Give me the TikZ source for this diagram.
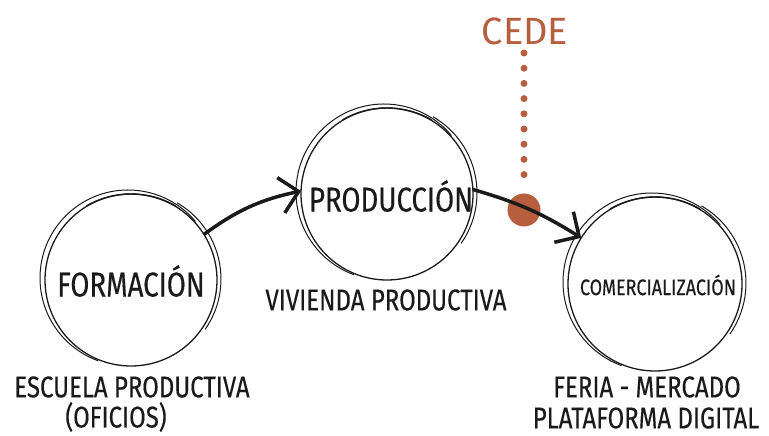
\documentclass[tikz,border=0pt]{standalone}
\usepackage{fontspec}
\setmainfont[FakeStretch=0.80, FakeBold=0.35]{Fira Sans}
\newfontfamily\cedefont{Fira Sans}
\usetikzlibrary{arrows.meta}
\definecolor{cedebrown}{HTML}{B75E3F}
\definecolor{ink}{HTML}{1A1A1A}
\tikzset{
  stage/.style={circle, minimum size=#1, inner sep=0pt, outer sep=0pt, draw=ink, line width=1.3pt},
  sketch/.style={draw=ink, line width=1.0pt},
  caption/.style={inner sep=0pt, text=ink, font=\fontsize{30}{33}\selectfont},
  flow/.style={draw=ink, line width=3.5pt, -{Straight Barb[length=18pt,width=36pt,line width=3.5pt]}},
}
\begin{document}
\begin{tikzpicture}[x=1pt,y=1pt]
\useasboundingbox (0,0) rectangle (769,436);
% stages
\node[stage=172pt] (F) at (131,156) {};
\node[stage=172pt] (P) at (387,242) {};
\node[stage=174pt] (C) at (655,152) {};
% sketchy extra strokes
\foreach \c/\r in {F/86,P/86,C/87}{
  \draw[sketch] ([shift={(-3,2)}]\c.center) ++(40:\r pt+2pt) arc[start angle=40, end angle=250, radius=\r pt+2pt];
  \draw[sketch] ([shift={(2,1)}]\c.center) ++(-35:\r pt+2pt) arc[start angle=-35, end angle=60, radius=\r pt+2pt];
  \draw[sketch, line width=1.4pt] ([shift={(0,-3)}]\c.center) ++(60:\r pt+3pt) arc[start angle=60, end angle=120, radius=\r pt+3pt];
}
% texts inside
\node[caption, font=\fontsize{34.5}{38}\selectfont] (Ft) at (131,155) {FORMACIÓN};
\node[caption, font=\fontsize{34.5}{38}\selectfont] (Pt) at (391,240) {PRODUCCIÓN};
\node[caption, font=\fontsize{22.5}{26}\selectfont] (Ct) at (658,151) {COMERCIALIZACIÓN};
% captions
\node[caption] (l1) at (132,49) {ESCUELA PRODUCTIVA};
\node[caption] (l2) at (116,19) {(OFICIOS)};
\node[caption] (l3) at (386,136) {VIVIENDA PRODUCTIVA};
\node[caption] (l4) at (647,49) {FERIA - MERCADO};
\node[caption] (l5) at (646,18) {PLATAFORMA DIGITAL};
% CEDE
\node[inner sep=0pt, text=cedebrown, font=\cedefont\fontsize{38}{41}\selectfont] (cede) at (525,405) {CEDE};
\node[circle, fill=cedebrown, minimum size=33pt, inner sep=0pt] (dot) at (524,226) {};
\coordinate (dtop) at (524,383);
\draw[cedebrown, line width=7pt, line cap=round, dash pattern=on 0pt off 15.2pt] (dtop) -- ([yshift=18pt]dot.north);
% arrows
\draw[flow] (F.32) to[bend left=12] (P.178);
\draw[flow] (P.3) to[bend left=8] (C.148);
\end{tikzpicture}
\end{document}
